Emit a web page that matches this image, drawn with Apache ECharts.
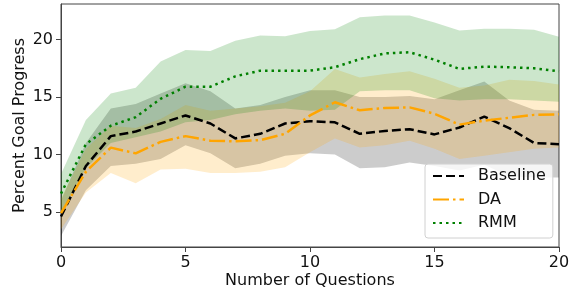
<!DOCTYPE html>
<html>
<head>
<meta charset="utf-8">
<script src="https://cdn.jsdelivr.net/npm/echarts@6/dist/echarts.min.js"></script>
<style>
  html, body { margin: 0; padding: 0; background: #fff; }
  #chart { width: 576px; height: 293px; }
</style>
</head>
<body>
<div id="chart"></div>
<script>
var questions = [0, 1, 2, 3, 4, 5, 6, 7, 8, 9, 10, 11, 12, 13, 14, 15, 16, 17, 18, 19, 20];
var yTicks = [5, 10, 15, 20];

// mean lines
var baseline = [4.6, 9.0, 11.6, 12.0, 12.7, 13.4, 12.7, 11.4, 11.8, 12.7, 12.9, 12.8, 11.8, 12.05, 12.2, 11.75, 12.35, 13.3, 12.3, 11.0, 10.9];
var da = [4.9, 8.5, 10.6, 10.1, 11.1, 11.6, 11.2, 11.15, 11.25, 11.8, 13.4, 14.55, 13.85, 14.05, 14.1, 13.55, 12.6, 12.95, 13.2, 13.45, 13.5];
var rmm = [6.6, 10.9, 12.5, 13.25, 14.85, 15.9, 15.9, 16.8, 17.3, 17.3, 17.3, 17.6, 18.3, 18.8, 18.9, 18.25, 17.45, 17.65, 17.6, 17.5, 17.25];

// shaded bands
var baselineLow = [2.9, 6.9, 9.0, 9.2, 9.6, 10.8, 10.1, 8.8, 9.2, 9.9, 10.1, 10.0, 8.8, 8.9, 9.3, 9.0, 8.6, 9.1, 8.1, 8.0, 8.0];
var baselineHigh = [6.0, 11.0, 14.0, 14.4, 15.3, 16.2, 15.5, 14.0, 14.3, 15.0, 15.6, 15.6, 15.0, 15.0, 15.1, 14.8, 15.6, 16.35, 14.7, 13.9, 13.8];
var daLow = [3.5, 6.7, 8.4, 7.5, 8.7, 8.75, 8.4, 8.4, 8.5, 8.9, 10.2, 11.4, 10.6, 10.8, 11.2, 10.5, 9.6, 9.9, 10.2, 10.5, 10.6];
var daHigh = [6.2, 10.5, 12.5, 12.3, 13.1, 14.3, 13.8, 14.0, 14.2, 14.5, 15.5, 17.45, 16.7, 17.0, 17.25, 16.6, 15.8, 16.0, 16.5, 16.4, 16.1];
var rmmLow = [5.0, 8.8, 11.0, 11.5, 12.0, 12.8, 13.0, 13.5, 13.8, 14.0, 13.8, 13.9, 15.5, 15.6, 15.6, 14.9, 14.7, 14.8, 14.8, 14.7, 14.6];
var rmmHigh = [8.3, 13.0, 15.3, 15.8, 18.1, 19.1, 19.0, 19.9, 20.35, 20.3, 20.75, 20.9, 21.95, 22.1, 22.1, 21.5, 20.8, 20.95, 20.95, 20.85, 20.25];

var FONT = "DejaVu Sans";

function band(name, low, high, color) {
  return [
    {
      type: "line", name: name + "_low", stack: name, data: low,
      symbol: "none", lineStyle: { opacity: 0 }, silent: true, z: 1
    },
    {
      type: "line", name: name + "_band", stack: name,
      data: high.map(function (v, i) { return +(v - low[i]).toFixed(3); }),
      symbol: "none", lineStyle: { opacity: 0 },
      areaStyle: { color: color, opacity: 1 }, silent: true, z: 1
    }
  ];
}

var chart = echarts.init(document.getElementById("chart"));

var option = {
  animation: false,
  grid: {
    left: 61, right: 17, top: 4, bottom: 46,
    containLabel: false, outerBoundsMode: "none",
    show: true, borderColor: "#444", borderWidth: 1
  },
  legend: {
    data: ["Baseline", "DA", "RMM"],
    orient: "vertical",
    left: 425, top: 164,
    itemWidth: 31, itemHeight: 16, itemGap: 7.5,
    padding: [4, 7, 7, 7],
    itemStyle: { opacity: 0 },
    backgroundColor: "rgba(255,255,255,0.8)",
    borderColor: "#d0d0d0", borderWidth: 1, borderRadius: 3,
    textStyle: { fontFamily: FONT, fontSize: 16, color: "#111", padding: [0, 0, 0, 9] }
  },
  xAxis: {
    type: "category",
    data: questions,
    boundaryGap: false,
    name: "Number of Questions",
    nameLocation: "middle",
    nameGap: 26,
    nameMoveOverlap: false,
    nameTextStyle: { fontFamily: FONT, fontSize: 16, color: "#111" },
    axisLine: { lineStyle: { color: "#444", width: 1 } },
    axisTick: { interval: 4, length: 5, lineStyle: { color: "#444" } },
    axisLabel: { interval: 4, margin: 8, fontFamily: FONT, fontSize: 16, color: "#111" },
    splitLine: { show: false }
  },
  yAxis: {
    type: "value",
    min: 1.95, max: 23.1,
    name: "Percent Goal Progress",
    nameLocation: "middle",
    nameGap: 33,
    nameMoveOverlap: false,
    nameTextStyle: { fontFamily: FONT, fontSize: 16, color: "#111" },
    axisLine: { show: true, lineStyle: { color: "#444", width: 1 } },
    axisTick: { show: true, length: 5, customValues: yTicks, lineStyle: { color: "#444" } },
    axisLabel: { margin: 8, customValues: yTicks, fontFamily: FONT, fontSize: 16, color: "#111" },
    splitLine: { show: false }
  },
  series: [].concat(
    band("b", baselineLow, baselineHigh, "rgba(0,0,0,0.2)"),
    band("d", daLow, daHigh, "rgba(255,165,0,0.2)"),
    band("r", rmmLow, rmmHigh, "rgba(0,128,0,0.2)"),
    [
      {
        type: "line", name: "Baseline", data: baseline, symbol: "none", z: 5,
        itemStyle: { color: "#000" },
        lineStyle: { color: "#000", width: 2.5, type: [9, 4] }
      },
      {
        type: "line", name: "DA", data: da, symbol: "none", z: 5,
        itemStyle: { color: "#ffa500" },
        lineStyle: { color: "#ffa500", width: 2.5, type: [16, 4, 2.5, 4] }
      },
      {
        type: "line", name: "RMM", data: rmm, symbol: "none", z: 5,
        itemStyle: { color: "#008000" },
        lineStyle: { color: "#008000", width: 2.5, type: [2.5, 4] }
      }
    ]
  )
};

chart.setOption(option);
window.addEventListener("resize", function () { chart.resize(); });
</script>
</body>
</html>
